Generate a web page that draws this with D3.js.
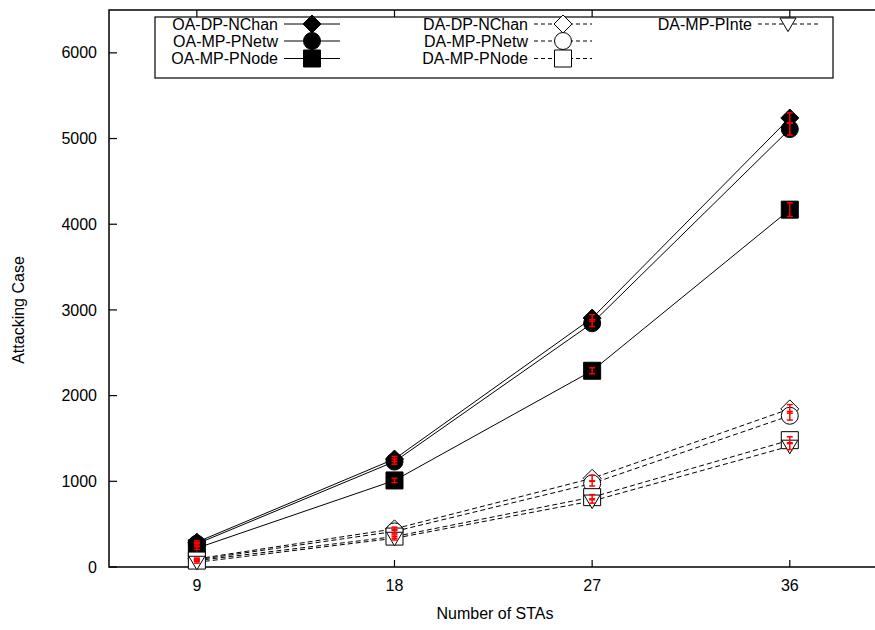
<!DOCTYPE html>
<html>
<head>
<meta charset="utf-8">
<script src="https://cdn.jsdelivr.net/npm/d3@7"></script>
<style>
  html, body { margin: 0; padding: 0; background: #fff; overflow: hidden; }
  svg { display: block; position: absolute; left: 0; top: 0; }
  text { font-family: "Liberation Sans", Arial, sans-serif; font-size: 16px; fill: #000; }
</style>
</head>
<body>
<script>
// x categories (number of STAs)
var stas = [9, 18, 27, 36];
var yTicks = [0, 1000, 2000, 3000, 4000, 5000, 6000];

// series values
var oaDpNChan = [290, 1260, 2905, 5240];
var oaMpPNetw = [270, 1230, 2845, 5110];
var oaMpPNode = [220, 1010, 2290, 4170];
var daDpNChan = [95, 445, 1035, 1845];
var daMpPNetw = [85, 415, 975, 1765];
var daMpPNode = [75, 355, 815, 1480];
var daMpPInte = [55, 335, 770, 1410];

// error bar half widths (red)
var oaDpNChanErr = [15, 30, 40, 60];
var oaMpPNetwErr = [15, 30, 40, 70];
var oaMpPNodeErr = [15, 25, 35, 80];
var daDpNChanErr = [10, 20, 35, 50];
var daMpPNetwErr = [10, 20, 30, 50];
var daMpPNodeErr = [10, 20, 30, 40];
var daMpPInteErr = [10, 20, 25, 40];

var series = [
  { name: "OA-DP-NChan", values: oaDpNChan, err: oaDpNChanErr, shape: "diamond", filled: true, dashed: false, col: 0, row: 0 },
  { name: "OA-MP-PNetw", values: oaMpPNetw, err: oaMpPNetwErr, shape: "circle", filled: true, dashed: false, col: 0, row: 1 },
  { name: "OA-MP-PNode", values: oaMpPNode, err: oaMpPNodeErr, shape: "square", filled: true, dashed: false, col: 0, row: 2 },
  { name: "DA-DP-NChan", values: daDpNChan, err: daDpNChanErr, shape: "diamond", filled: false, dashed: true, col: 1, row: 0 },
  { name: "DA-MP-PNetw", values: daMpPNetw, err: daMpPNetwErr, shape: "circle", filled: false, dashed: true, col: 1, row: 1 },
  { name: "DA-MP-PNode", values: daMpPNode, err: daMpPNodeErr, shape: "square", filled: false, dashed: true, col: 1, row: 2 },
  { name: "DA-MP-PInte", values: daMpPInte, err: daMpPInteErr, shape: "triangle", filled: false, dashed: true, col: 2, row: 0 }
];

var W = 875, H = 630;
var x = d3.scaleLinear().domain([5, 41]).range([109, 899.6]);
var y = d3.scaleLinear().domain([0, 6500]).range([567, 10]);

// custom marker shapes for d3.symbol (size = half width)
var shapes = {
  diamond: { draw: function (c, s) { c.moveTo(0, -s); c.lineTo(s, 0); c.lineTo(0, s); c.lineTo(-s, 0); c.closePath(); } },
  circle: { draw: function (c, s) { c.moveTo(s, 0); c.arc(0, 0, s, 0, 2 * Math.PI); } },
  square: { draw: function (c, s) { c.rect(-s, -s, 2 * s, 2 * s); } },
  triangle: { draw: function (c, s) { c.moveTo(-s, -s * 0.75); c.lineTo(s, -s * 0.75); c.lineTo(0, s * 0.95); c.closePath(); } }
};
var halfSize = { diamond: 9, circle: 8.5, square: 8.5, triangle: 8 };

function marker(sel, d) {
  sel.attr("d", d3.symbol().type(shapes[d.shape]).size(halfSize[d.shape])())
    .attr("fill", d.filled ? "#000" : "#fff")
    .attr("stroke", "#000")
    .attr("stroke-width", 1);
}

var svg = d3.select("body").append("svg")
  .attr("width", W)
  .attr("height", H);

// frame: left, top and bottom only (right side is off the page)
svg.append("path")
  .attr("d", "M" + W + "," + y(6500) + "H" + x(5) + "V" + y(0) + "H" + W)
  .attr("fill", "none").attr("stroke", "#000").attr("stroke-width", 1.5);

// y ticks (inward) + labels
svg.append("g").selectAll("line")
  .data(yTicks).enter().append("line")
  .attr("x1", x(5)).attr("x2", x(5) + 8)
  .attr("y1", d => y(d)).attr("y2", d => y(d))
  .attr("stroke", "#000").attr("stroke-width", 1.2);
svg.append("g").selectAll("text")
  .data(yTicks).enter().append("text")
  .attr("x", x(5) - 12)
  .attr("y", d => y(d))
  .attr("dy", "0.35em")
  .attr("text-anchor", "end")
  .text(d => d);

// x ticks (inward, mirrored on top) + labels
svg.append("g").selectAll("line")
  .data(stas).enter().append("line")
  .attr("x1", d => x(d)).attr("x2", d => x(d))
  .attr("y1", y(0)).attr("y2", y(0) - 7)
  .attr("stroke", "#000").attr("stroke-width", 1.2);
svg.append("g").selectAll("line")
  .data(stas).enter().append("line")
  .attr("x1", d => x(d)).attr("x2", d => x(d))
  .attr("y1", y(6500)).attr("y2", y(6500) + 7)
  .attr("stroke", "#000").attr("stroke-width", 1.2);
svg.append("g").selectAll("text")
  .data(stas).enter().append("text")
  .attr("x", d => x(d))
  .attr("y", y(0) + 24)
  .attr("text-anchor", "middle")
  .text(d => d);

// axis titles
svg.append("text")
  .attr("x", 495).attr("y", 619)
  .attr("text-anchor", "middle")
  .text("Number of STAs");
svg.append("text")
  .attr("transform", "translate(24,310) rotate(-90)")
  .attr("text-anchor", "middle")
  .text("Attacking Case");

var line = d3.line()
  .x((d, i) => x(stas[i]))
  .y(d => y(d));

// lines
series.forEach(function (s) {
  svg.append("path")
    .attr("d", line(s.values))
    .attr("fill", "none")
    .attr("stroke", "#000")
    .attr("stroke-width", 1)
    .attr("stroke-dasharray", s.dashed ? "5,3" : null);
});

// markers
series.forEach(function (s) {
  svg.append("g").selectAll("path")
    .data(s.values).enter().append("path")
    .attr("transform", (d, i) => "translate(" + x(stas[i]) + "," + y(d) + ")")
    .each(function () { marker(d3.select(this), s); });
});

// red error bars
series.forEach(function (s) {
  var g = svg.append("g").attr("stroke", "#f00").attr("stroke-width", 1.5);
  s.values.forEach(function (v, i) {
    var cx = x(stas[i]), e = s.err[i];
    g.append("line").attr("x1", cx).attr("x2", cx).attr("y1", y(v - e)).attr("y2", y(v + e));
    g.append("line").attr("x1", cx - 3).attr("x2", cx + 3).attr("y1", y(v - e)).attr("y2", y(v - e));
    g.append("line").attr("x1", cx - 3).attr("x2", cx + 3).attr("y1", y(v + e)).attr("y2", y(v + e));
  });
});

// legend
var lg = svg.append("g");
lg.append("rect")
  .attr("x", 155).attr("y", 17).attr("width", 678).attr("height", 61)
  .attr("fill", "#fff").attr("stroke", "#000").attr("stroke-width", 1.2);
var colText = [278, 528, 752];
var colLine = [[284, 340], [534, 592], [758, 818]];
var rowY = [24, 41, 58.5];
series.forEach(function (s) {
  var ry = rowY[s.row];
  lg.append("text")
    .attr("x", colText[s.col]).attr("y", ry).attr("dy", "0.35em")
    .attr("text-anchor", "end")
    .text(s.name);
  lg.append("line")
    .attr("x1", colLine[s.col][0]).attr("x2", colLine[s.col][1])
    .attr("y1", ry).attr("y2", ry)
    .attr("stroke", "#000").attr("stroke-width", 1)
    .attr("stroke-dasharray", s.dashed ? "4,3" : null);
  lg.append("path")
    .attr("transform", "translate(" + (colLine[s.col][0] + colLine[s.col][1]) / 2 + "," + ry + ")")
    .each(function () { marker(d3.select(this), s); });
});
</script>
</body>
</html>
